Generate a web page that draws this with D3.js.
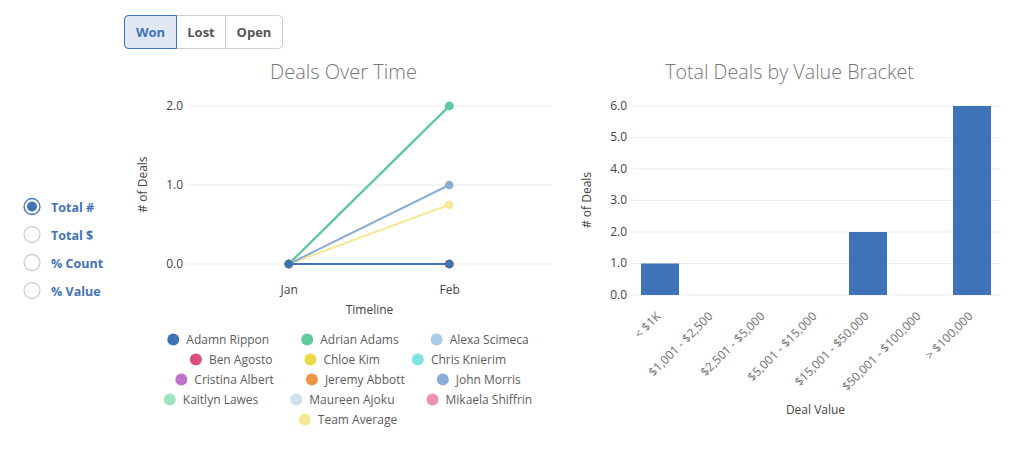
<!DOCTYPE html>
<html>
<head>
<meta charset="utf-8">
<script src="https://cdn.jsdelivr.net/npm/d3@7"></script>
<style>
  html, body { margin: 0; padding: 0; background: #fff; }
  svg { display: block; font-family: "Open Sans", sans-serif; }
</style>
</head>
<body>
<svg id="chart" width="1026" height="450"></svg>
<script>
const months = ["Jan", "Feb"];
const reps = ["Adamn Rippon", "Adrian Adams", "Alexa Scimeca", "Ben Agosto", "Chloe Kim", "Chris Knierim",
  "Cristina Albert", "Jeremy Abbott", "John Morris", "Kaitlyn Lawes", "Maureen Ajoku", "Mikaela Shiffrin", "Team Average"];
const repColors = ["#3f73b7", "#5fcb9c", "#a9cbe3", "#d94f78", "#efd845", "#7de3dc",
  "#bf72cb", "#ec9445", "#8cabd6", "#9fe3c3", "#cfe0ee", "#e993ae", "#f5e795"];
const janDeals = [0, 0, 0, 0, 0, 0, 0, 0, 0, 0, 0, 0, 0];
// only the top line shows at 2.0, the ones under it are estimated from the 0.75 average
const febDeals = [0, 2, 2, 0, 0, 2, 0, 0, 1, 2, 0, 0, 0.75];
const lineTicks = [0, 1, 2];

const brackets = ["< $1K", "$1,001 - $2,500", "$2,501 - $5,000", "$5,001 - $15,000",
  "$15,001 - $50,000", "$50,001 - $100,000", "> $100,000"];
const bracketDeals = [1, 0, 0, 0, 2, 0, 6];
const barTicks = [0, 1, 2, 3, 4, 5, 6];

const statuses = ["Won", "Lost", "Open"];
const measures = ["Total #", "Total $", "% Count", "% Value"];

const blue = "#3f73b7";
const grid = "#ececec";
const svg = d3.select("#chart");

// status buttons
const buttonEdges = [124.5, 176.5, 225.5, 282.5];
const buttons = svg.append("g");
buttons.append("rect")
  .attr("x", buttonEdges[0]).attr("y", 15.5)
  .attr("width", buttonEdges[3] - buttonEdges[0]).attr("height", 33)
  .attr("rx", 4).attr("fill", "#fff").attr("stroke", "#cccccc");
buttons.append("path")
  .attr("d", "M176.5,15.5H128.5a4,4 0 0 0 -4,4V44.5a4,4 0 0 0 4,4H176.5Z")
  .attr("fill", "#e1e8f4").attr("stroke", blue);
buttons.append("line")
  .attr("x1", buttonEdges[2]).attr("x2", buttonEdges[2])
  .attr("y1", 15.5).attr("y2", 48.5).attr("stroke", "#cccccc");
statuses.forEach((s, i) => {
  buttons.append("text")
    .text(s)
    .attr("x", (buttonEdges[i] + buttonEdges[i + 1]) / 2)
    .attr("y", 37)
    .attr("text-anchor", "middle")
    .attr("font-size", 13)
    .attr("font-weight", 700)
    .attr("fill", i === 0 ? blue : "#555");
});

// measure radios
measures.forEach((m, i) => {
  const y = 206.5 + i * 28;
  svg.append("circle").attr("cx", 32).attr("cy", y).attr("r", 8)
    .attr("fill", "#fff").attr("stroke", i === 0 ? blue : "#cccccc").attr("stroke-width", 1.3);
  if (i === 0) svg.append("circle").attr("cx", 32).attr("cy", y).attr("r", 5).attr("fill", blue);
  svg.append("text").text(m)
    .attr("x", 51).attr("y", y + 5)
    .attr("font-size", 12.5).attr("font-weight", 700).attr("fill", blue);
});

function title(text, x, size) {
  svg.append("text").text(text)
    .attr("x", x).attr("y", 78.5)
    .attr("text-anchor", "middle")
    .attr("font-size", size).attr("font-weight", 300).attr("fill", "#777");
}

function axisLabel(text, x, y, rotate) {
  svg.append("text").text(text)
    .attr("transform", `translate(${x},${y})` + (rotate ? " rotate(-90)" : ""))
    .attr("text-anchor", "middle")
    .attr("font-size", 12).attr("fill", "#444");
}

function yAxis(scale, ticks, left, right) {
  // gridlines sit half a pixel above the marks
  const g = svg.append("g")
    .attr("transform", `translate(${left},-0.5)`)
    .call(d3.axisLeft(scale).tickValues(ticks).tickFormat(d3.format(".1f")).tickSize(left - right));
  g.select(".domain").remove();
  g.selectAll("line").attr("stroke", grid);
  g.selectAll("text")
    .attr("x", -3)
    .attr("font-family", "Open Sans")
    .attr("font-size", 12).attr("fill", "#444");
  return g;
}

// left chart
const xMonth = d3.scalePoint().domain(months).range([186, 552]).padding(0.64);
const yDeals = d3.scaleLinear().domain([0, 2]).range([264, 106]);

title("Deals Over Time", 343.5, 20);
yAxis(yDeals, lineTicks, 186, 552);
axisLabel("# of Deals", 147, 184.5, true);
axisLabel("Timeline", 369.5, 314, false);

const xMonthAxis = svg.append("g")
  .attr("transform", "translate(0,264)")
  .call(d3.axisBottom(xMonth).tickSize(0).tickPadding(21));
xMonthAxis.select(".domain").remove();
xMonthAxis.selectAll("text")
  .attr("font-family", "Open Sans").attr("font-size", 12).attr("fill", "#444");

const line = d3.line().x(d => xMonth(d.month)).y(d => yDeals(d.deals));
const seriesRows = reps.map((name, i) => ({
  name, color: repColors[i],
  points: [{ month: months[0], deals: janDeals[i] }, { month: months[1], deals: febDeals[i] }]
}));

// first rep ends up on top
const series = svg.append("g").selectAll("g")
  .data(seriesRows.slice().reverse())
  .join("g");
series.append("path")
  .attr("d", d => line(d.points))
  .attr("fill", "none")
  .attr("stroke", d => d.color)
  .attr("stroke-width", 2);
series.selectAll("circle")
  .data(d => d.points.map(p => ({ ...p, color: d.color })))
  .join("circle")
  .attr("cx", d => xMonth(d.month))
  .attr("cy", d => yDeals(d.deals))
  .attr("r", 4.3)
  .attr("fill", d => d.color);

// legend: rows of three, each row centered as a whole
const legendCenter = 348;
const legendGap = 32;
const legendRows = d3.groups(reps.map((name, i) => ({ name, color: repColors[i], i })), d => Math.floor(d.i / 3));
const legend = svg.append("g");
legendRows.forEach(([row, items]) => {
  const y = 339.5 + row * 20;
  const labels = items.map(item => legend.append("text").text(item.name)
    .attr("y", y + 4.5)
    .attr("font-size", 12).attr("fill", "#5c5c5c"));
  const widths = labels.map(l => l.node().getComputedTextLength() + 19);
  let left = legendCenter - (d3.sum(widths) + legendGap * (items.length - 1)) / 2;
  items.forEach((item, c) => {
    labels[c].attr("x", left + 19);
    legend.append("circle").attr("cx", left + 6).attr("cy", y).attr("r", 6).attr("fill", item.color);
    left += widths[c] + legendGap;
  });
});

// right chart
const xBracket = d3.scaleBand().domain(brackets).range([634, 998]).paddingInner(14 / 52).paddingOuter(7 / 52);
const yBracket = d3.scaleLinear().domain([0, 6]).range([295, 106]);

title("Total Deals by Value Bracket", 789.5, 19.7);
yAxis(yBracket, barTicks, 630, 1001);
axisLabel("# of Deals", 591, 200, true);
axisLabel("Deal Value", 815.5, 414, false);

svg.append("g").selectAll("rect")
  .data(bracketDeals.map((deals, i) => ({ deals, bracket: brackets[i] })))
  .join("rect")
  .attr("x", d => xBracket(d.bracket))
  .attr("y", d => yBracket(d.deals))
  .attr("width", xBracket.bandwidth())
  .attr("height", d => yBracket(0) - yBracket(d.deals))
  .attr("fill", blue);

const xBracketAxis = svg.append("g")
  .attr("transform", "translate(0,295)")
  .call(d3.axisBottom(xBracket).tickSize(0));
xBracketAxis.select(".domain").remove();
xBracketAxis.selectAll("text")
  .attr("font-family", "Open Sans").attr("font-size", 12).attr("fill", "#707070")
  .attr("text-anchor", "end")
  .attr("dy", 0)
  .attr("y", 0)
  .attr("transform", "translate(1.5,22) rotate(-45)");
</script>
</body>
</html>
